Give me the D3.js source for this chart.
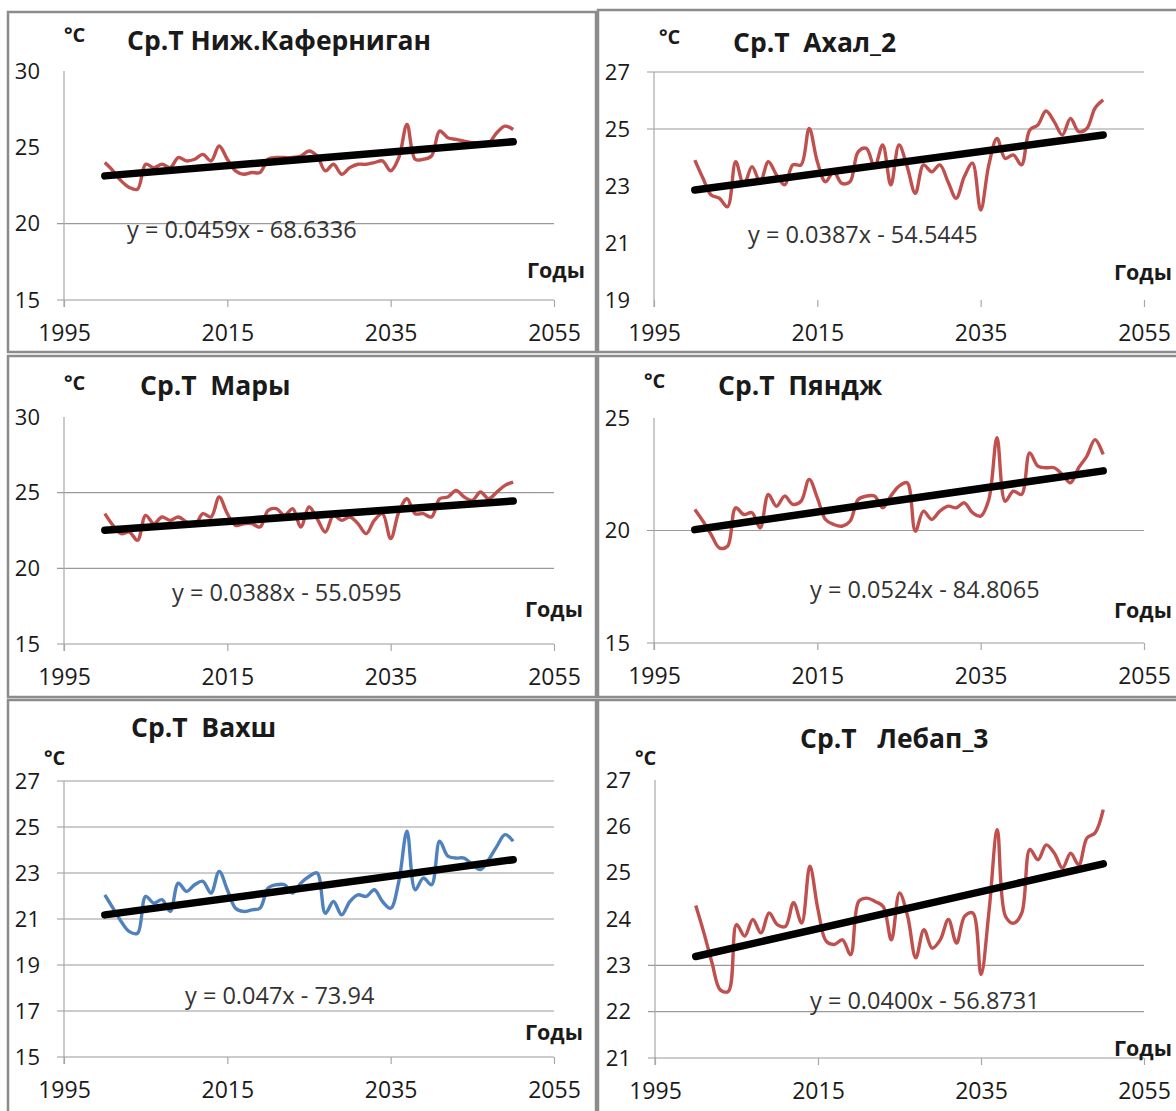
<!DOCTYPE html>
<html lang="ru">
<head>
<meta charset="utf-8">
<title>Ср.Т по станциям</title>
<script src="https://cdnjs.cloudflare.com/ajax/libs/d3/7.8.5/d3.min.js"></script>
<style>
  body { margin: 0; background: #fff; }
  svg text { font-family: "Open Sans", "DejaVu Sans", sans-serif; fill: #1a1a1a; }
  .title, .unit, .xname { font-weight: bold; }
</style>
</head>
<body>
<svg id="chart" width="1176" height="1111"></svg>
<script>
// years on the x axis
const years = [2000, 2001, 2002, 2003, 2004, 2005, 2006, 2007, 2008, 2009,
  2010, 2011, 2012, 2013, 2014, 2015, 2016, 2017, 2018, 2019,
  2020, 2021, 2022, 2023, 2024, 2025, 2026, 2027, 2028, 2029,
  2030, 2031, 2032, 2033, 2034, 2035, 2036, 2037, 2038, 2039,
  2040, 2041, 2042, 2043, 2044, 2045, 2046, 2047, 2048, 2049, 2050];
const xTicks = [1995, 2015, 2035, 2055];

// mean temperature, °C
const kafernigan = [24.0, 23.46, 22.8, 22.37, 22.26, 23.89, 23.67, 23.89, 23.67, 24.33,
  24.11, 24.22, 24.54, 24.11, 25.09, 24.22, 23.46, 23.24, 23.35, 23.35,
  24.22, 24.33, 24.33, 24.33, 24.43, 24.76, 24.43, 23.46, 23.89, 23.24,
  23.67, 23.89, 23.89, 24.0, 24.11, 23.46, 24.33, 26.5, 24.22, 24.22,
  24.43, 26.07, 25.63, 25.52, 25.41, 25.3, 25.3, 25.3, 25.96, 26.39, 26.17];
const akhal = [23.91, 23.27, 22.68, 22.57, 22.27, 23.85, 23.04, 23.68, 23.15, 23.85,
  23.39, 23.04, 23.74, 23.74, 25.02, 23.85, 23.15, 23.5, 23.09, 23.15,
  24.2, 24.32, 23.68, 24.44, 23.04, 24.44, 23.68, 22.74, 23.74, 23.5,
  23.74, 23.15, 22.57, 23.33, 23.8, 22.16, 23.74, 24.67, 23.97, 24.09,
  23.74, 24.96, 25.14, 25.63, 25.26, 24.79, 25.37, 24.91, 25.02, 25.73, 26.02];
const mary = [23.61, 22.84, 22.29, 22.4, 21.85, 23.5, 22.95, 23.39, 23.17, 23.39,
  23.06, 22.84, 23.61, 23.39, 24.71, 23.61, 22.84, 22.95, 22.95, 22.73,
  23.83, 23.94, 23.5, 23.94, 22.73, 24.05, 23.28, 22.4, 23.5, 23.17,
  23.39, 22.95, 22.29, 23.17, 23.61, 21.96, 23.72, 24.6, 23.61, 23.61,
  23.39, 24.6, 24.71, 25.15, 24.71, 24.49, 25.04, 24.6, 25.04, 25.48, 25.7];
const pyandzh = [20.93, 20.41, 19.82, 19.23, 19.3, 21.01, 20.71, 20.79, 20.12, 21.6,
  21.08, 21.53, 21.16, 21.3, 22.27, 21.45, 20.49, 20.27, 20.19, 20.41,
  21.38, 21.53, 21.53, 21.01, 21.53, 21.97, 22.12, 19.97, 20.86, 20.49,
  20.86, 21.08, 21.01, 21.23, 20.79, 20.64, 21.38, 24.12, 21.3, 21.75,
  21.6, 23.45, 22.86, 22.79, 22.79, 22.49, 22.12, 22.79, 23.3, 24.04, 23.38];
const vakhsh = [22.05, 21.47, 20.89, 20.45, 20.38, 21.98, 21.69, 21.84, 21.33, 22.56,
  22.2, 22.49, 22.64, 22.13, 23.07, 22.27, 21.47, 21.33, 21.4, 21.47,
  22.35, 22.49, 22.49, 22.13, 22.56, 22.85, 23.0, 21.25, 21.76, 21.18,
  21.76, 22.05, 21.98, 22.27, 21.76, 21.47, 22.64, 24.82, 22.27, 22.78,
  22.49, 24.38, 23.73, 23.65, 23.65, 23.36, 23.15, 23.58, 24.16, 24.67, 24.38];
const lebap = [24.29, 23.7, 23.05, 22.47, 22.44, 23.88, 23.63, 23.99, 23.7, 24.13,
  23.88, 23.84, 24.35, 23.91, 25.14, 24.2, 23.52, 23.45, 23.55, 23.23,
  24.38, 24.45, 24.38, 24.27, 23.55, 24.56, 24.06, 23.16, 23.77, 23.37,
  23.55, 23.99, 23.48, 24.06, 24.13, 22.8, 24.2, 25.93, 24.06, 23.91,
  24.13, 25.5, 25.28, 25.6, 25.42, 25.1, 25.42, 25.17, 25.75, 25.86, 26.36];

// linear trend, value at first and last year
const trendKafernigan = [23.13, 25.37];
const trendAkhal = [22.86, 24.79];
const trendMary = [22.51, 24.45];
const trendPyandzh = [20.04, 22.65];
const trendVakhsh = [21.18, 23.58];
const trendLebap = [23.19, 25.19];

const titles = ["Ср.Т Ниж.Каферниган", "Ср.Т  Ахал_2", "Ср.Т  Мары", "Ср.Т  Пяндж", "Ср.Т  Вахш", "Ср.Т   Лебап_3"];
const equations = ["y = 0.0459x - 68.6336", "y = 0.0387x - 54.5445", "y = 0.0388x - 55.0595",
  "y = 0.0524x - 84.8065", "y = 0.047x - 73.94", "y = 0.0400x - 56.8731"];
const yTickSets = [[15, 20, 25, 30], [19, 21, 23, 25, 27], [15, 20, 25, 30],
  [15, 20, 25], [15, 17, 19, 21, 23, 25, 27], [21, 22, 23, 24, 25, 26, 27]];

const red = "#c0504d", blue = "#4f81bd";

// layout of each panel (pixels)
const panels = [
  { values: kafernigan, trend: trendKafernigan, color: red, frame: [8, 12, 588, 340],
    x: [64, 554], y: [300, 71], grid: [20], axis: true,
    title: [127, 50], unit: [64, 42], eq: [127, 238], xname: [527, 278] },
  { values: akhal, trend: trendAkhal, color: red, frame: [598, 10, 590, 342],
    x: [654, 1144], y: [300, 72], grid: [25, 27], axis: false,
    title: [733, 52], unit: [659, 44], eq: [748, 243], xname: [1114, 280] },
  { values: mary, trend: trendMary, color: red, frame: [8, 356, 588, 341],
    x: [64, 554], y: [644, 417], grid: [20, 25], axis: true,
    title: [140, 395], unit: [64, 390], eq: [172, 601], xname: [525, 617] },
  { values: pyandzh, trend: trendPyandzh, color: red, frame: [598, 356, 590, 341],
    x: [654, 1144], y: [643, 418], grid: [20], axis: true,
    title: [718, 395], unit: [644, 388], eq: [810, 598], xname: [1114, 618] },
  { values: vakhsh, trend: trendVakhsh, color: blue, frame: [8, 700, 588, 420],
    x: [64, 554], y: [1057, 781], grid: [17, 19, 21, 23, 25, 27], axis: true,
    title: [131, 737], unit: [44, 765], eq: [185, 1004], xname: [525, 1040] },
  { values: lebap, trend: trendLebap, color: red, frame: [598, 700, 590, 420],
    x: [655, 1144], y: [1058, 780], grid: [22, 23], axis: true,
    title: [800, 748], unit: [635, 765], eq: [810, 1009], xname: [1114, 1056] }
];

const svg = d3.select("#chart");
svg.append("rect").attr("width", 1176).attr("height", 1111).attr("fill", "#fff");

panels.forEach((p, i) => {
  const ticks = yTickSets[i];
  const g = svg.append("g");

  g.append("rect")
    .attr("x", p.frame[0]).attr("y", p.frame[1])
    .attr("width", p.frame[2]).attr("height", p.frame[3])
    .attr("fill", "#fff").attr("stroke", "#8c8c8c").attr("stroke-width", 2.5);

  const x = d3.scaleLinear().domain([xTicks[0], xTicks[xTicks.length - 1]]).range(p.x);
  const y = d3.scaleLinear().domain(d3.extent(ticks)).range(p.y);

  // gridlines that survive in the picture
  g.selectAll(".grid").data(p.grid).join("line")
    .attr("x1", p.x[0] - 7).attr("x2", p.x[1])
    .attr("y1", d => y(d)).attr("y2", d => y(d))
    .attr("stroke", "#9a9a9a").attr("stroke-width", 1.2);

  // y axis line
  g.append("line")
    .attr("x1", p.x[0]).attr("x2", p.x[0])
    .attr("y1", p.y[1]).attr("y2", p.y[0] + 7)
    .attr("stroke", "#a8a8a8").attr("stroke-width", 1.2);

  // x axis with ticks below
  const xAxis = d3.axisBottom(x).tickValues(xTicks).tickSize(7).tickSizeOuter(0).tickFormat(d3.format("d"));
  const ax = g.append("g").attr("transform", `translate(0,${p.y[0]})`).call(xAxis);
  ax.select(".domain").attr("stroke", p.axis ? "#9a9a9a" : "none").attr("stroke-width", 1.2)
    .attr("d", `M${p.x[0] - 7},0H${p.x[1]}`);
  ax.selectAll(".tick line").attr("stroke", "#a8a8a8").attr("stroke-width", 1.2);
  ax.selectAll(".tick text").attr("y", 33).attr("dy", "0.35em")
    .attr("font-size", 23).attr("fill", "#1a1a1a")
    .style("font-family", '"Open Sans", sans-serif');

  // y tick labels
  g.selectAll(".ylab").data(ticks).join("text")
    .attr("x", p.x[0] - 24).attr("y", d => y(d)).attr("dy", "0.35em")
    .attr("text-anchor", "end").attr("font-size", 22)
    .text(d => d);

  // series
  const line = d3.line()
    .x((d, k) => x(years[k]))
    .y(d => y(d))
    .curve(d3.curveCatmullRom.alpha(0.5));
  g.append("path").datum(p.values)
    .attr("d", line)
    .attr("fill", "none").attr("stroke", p.color).attr("stroke-width", 3.4)
    .attr("stroke-linejoin", "round");

  // trend line
  const tYears = [years[0], years[years.length - 1]];
  g.append("path").datum(p.trend)
    .attr("d", d3.line().x((d, k) => x(tYears[k])).y(d => y(d)))
    .attr("stroke", "#000").attr("stroke-width", 7.5).attr("stroke-linecap", "round");

  // texts
  g.append("text").attr("class", "title")
    .attr("x", p.title[0]).attr("y", p.title[1]).attr("font-size", 26.5)
    .style("white-space", "pre").text(titles[i]);
  g.append("text").attr("class", "unit")
    .attr("x", p.unit[0]).attr("y", p.unit[1]).attr("font-size", 20).text("°C");
  g.append("text")
    .attr("x", p.eq[0]).attr("y", p.eq[1]).attr("font-size", 23.5)
    .style("fill", "#333").text(equations[i]);
  g.append("text").attr("class", "xname")
    .attr("x", p.xname[0]).attr("y", p.xname[1]).attr("font-size", 21.5).text("Годы");
});
</script>
</body>
</html>
